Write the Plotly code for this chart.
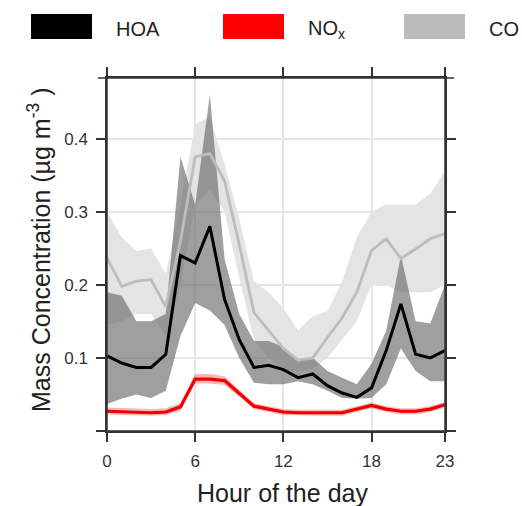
import plotly.graph_objects as go

hours = list(range(24))

hoa = [0.103, 0.093, 0.087, 0.087, 0.105, 0.240, 0.230, 0.280, 0.180, 0.125, 0.087, 0.090,
       0.084, 0.073, 0.078, 0.062, 0.052, 0.046, 0.059, 0.110, 0.174, 0.105, 0.100, 0.110]
hoa_upper = [0.190, 0.185, 0.150, 0.150, 0.160, 0.375, 0.310, 0.460, 0.235, 0.160, 0.123, 0.123,
             0.115, 0.095, 0.100, 0.082, 0.073, 0.064, 0.092, 0.137, 0.240, 0.150, 0.147, 0.200]
hoa_lower = [0.037, 0.044, 0.050, 0.045, 0.055, 0.130, 0.175, 0.165, 0.145, 0.100, 0.066, 0.064,
             0.064, 0.068, 0.064, 0.055, 0.045, 0.044, 0.045, 0.064, 0.113, 0.082, 0.068, 0.068]

co = [0.237, 0.198, 0.205, 0.207, 0.170, 0.260, 0.375, 0.380, 0.342, 0.255, 0.162, 0.138,
      0.113, 0.097, 0.100, 0.128, 0.155, 0.190, 0.247, 0.263, 0.236, 0.249, 0.263, 0.270]
co_upper = [0.300, 0.265, 0.246, 0.250, 0.215, 0.310, 0.420, 0.430, 0.365, 0.290, 0.205, 0.190,
            0.168, 0.138, 0.157, 0.164, 0.205, 0.265, 0.300, 0.310, 0.310, 0.310, 0.325, 0.356]
co_lower = [0.145, 0.150, 0.160, 0.160, 0.130, 0.200, 0.310, 0.330, 0.300, 0.210, 0.125, 0.100,
            0.085, 0.080, 0.085, 0.100, 0.125, 0.150, 0.200, 0.200, 0.190, 0.190, 0.190, 0.200]

nox = [0.027, 0.026, 0.025, 0.025, 0.026, 0.033, 0.071, 0.071, 0.069, 0.052, 0.034, 0.030,
       0.026, 0.025, 0.025, 0.025, 0.025, 0.030, 0.035, 0.030, 0.027, 0.027, 0.030, 0.036]
nox_upper = [0.032, 0.031, 0.030, 0.030, 0.031, 0.038, 0.078, 0.078, 0.075, 0.057, 0.038, 0.034,
             0.030, 0.029, 0.029, 0.029, 0.029, 0.034, 0.039, 0.034, 0.031, 0.031, 0.034, 0.040]
nox_lower = [0.023, 0.022, 0.021, 0.021, 0.022, 0.028, 0.065, 0.065, 0.063, 0.047, 0.030, 0.026,
             0.022, 0.021, 0.021, 0.021, 0.021, 0.026, 0.031, 0.026, 0.023, 0.023, 0.026, 0.032]

x_ticks = [0, 6, 12, 18, 23]
y_ticks = [0, 0.1, 0.2, 0.3, 0.4]
y_ticktext = ["", "0.1", "0.2", "0.3", "0.4"]

legend_names = ["HOA", "NO<sub>x</sub>", "CO"]
legend_colors = ["#000000", "#ff0000", "#bbbbbb"]

FONT = "Liberation Sans, Arial, sans-serif"


def band(upper, lower, color):
    return go.Scatter(x=hours + hours[::-1], y=upper + lower[::-1], fill="toself",
                      fillcolor=color, line=dict(width=0), mode="lines", hoverinfo="skip")


fig = go.Figure()
fig.add_trace(band(co_upper, co_lower, "#e4e4e4"))
fig.add_trace(band(hoa_upper, hoa_lower, "rgba(100,100,100,0.62)"))
fig.add_trace(go.Scatter(x=hours, y=co, mode="lines", line=dict(color="#bdbdbd", width=2.8)))
fig.add_trace(band(nox_upper, nox_lower, "rgba(255,70,70,0.40)"))
fig.add_trace(go.Scatter(x=hours, y=nox, mode="lines", line=dict(color="#ee0000", width=3.2)))
fig.add_trace(go.Scatter(x=hours, y=hoa, mode="lines", line=dict(color="#000000", width=3)))

W, H = 522, 506
L, R, T, B = 107, 77, 78, 75
pw, ph = W - L - R, H - T - B

axis_common = dict(ticks="outside", ticklen=9, tickwidth=1.5, tickcolor="#333",
                   showline=True, linecolor="#333", linewidth=1.5, mirror="ticks",
                   showgrid=True, gridcolor="#e6e6e6", gridwidth=2, zeroline=False,
                   tickfont=dict(family=FONT, size=17, color="#333"))

fig.update_xaxes(range=[0, 23], tickvals=x_ticks, ticklabelstandoff=5, **axis_common)
fig.update_yaxes(range=[0, 0.483], tickvals=y_ticks, ticktext=y_ticktext,
                 ticklabelstandoff=5, **axis_common)

# frame overhang (axis lines cross at the corners)
ox, oy = 9 / pw, 9 / ph
shapes = [
    dict(type="line", xref="paper", yref="paper", x0=-ox, x1=1 + ox, y0=0, y1=0, line=dict(color="#333", width=1.5)),
    dict(type="line", xref="paper", yref="paper", x0=-ox, x1=1 + ox, y0=1, y1=1, line=dict(color="#333", width=1.5)),
    dict(type="line", xref="paper", yref="paper", x0=0, x1=0, y0=-oy, y1=1 + oy, line=dict(color="#333", width=1.5)),
    dict(type="line", xref="paper", yref="paper", x0=1, x1=1, y0=-oy, y1=1 + oy, line=dict(color="#333", width=1.5)),
]

# legend boxes across the top
legend_box_left = [31, 223, 404]
annotations = []
for name, color, bx in zip(legend_names, legend_colors, legend_box_left):
    x0 = (bx - L) / pw
    x1 = (bx + 61 - L) / pw
    y0 = (H - B - 39) / ph
    y1 = (H - B - 14) / ph
    shapes.append(dict(type="rect", xref="paper", yref="paper", x0=x0, x1=x1, y0=y0, y1=y1,
                       fillcolor=color, line=dict(width=0)))
    annotations.append(dict(xref="paper", yref="paper", x=(bx + 83 - L) / pw,
                            y=(H - B - 29) / ph, text=name, showarrow=False,
                            xanchor="left", yanchor="middle",
                            font=dict(family=FONT, size=20, color="#222")))

annotations.append(dict(xref="paper", yref="paper", x=(282 - L) / pw, y=(H - B - 493) / ph,
                        text="Hour of the day", showarrow=False, xanchor="center",
                        yanchor="middle", font=dict(family=FONT, size=25, color="#222")))
annotations.append(dict(xref="paper", yref="paper", x=(39 - L) / pw, y=(H - B - 250) / ph,
                        text="Mass Concentration (µg m<sup>-3</sup> )", showarrow=False,
                        textangle=-90, xanchor="center", yanchor="middle",
                        font=dict(family=FONT, size=25, color="#222")))

fig.update_layout(width=W, height=H, margin=dict(l=L, r=R, t=T, b=B),
                  plot_bgcolor="white", paper_bgcolor="white", showlegend=False,
                  shapes=shapes, annotations=annotations)

fig.write_html("out.html")
